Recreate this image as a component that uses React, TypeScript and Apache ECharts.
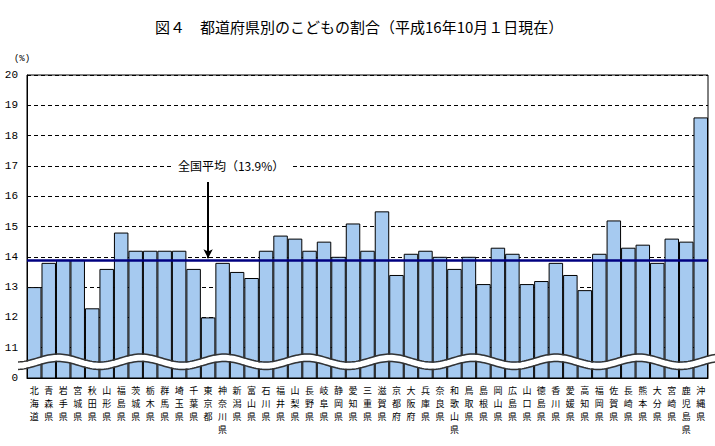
import React, { useEffect, useRef } from "react";
import * as echarts from "echarts";

const prefectures = [
  "北海道", "青森県", "岩手県", "宮城県", "秋田県", "山形県", "福島県", "茨城県", "栃木県", "群馬県",
  "埼玉県", "千葉県", "東京都", "神奈川県", "新潟県", "富山県", "石川県", "福井県", "山梨県", "長野県",
  "岐阜県", "静岡県", "愛知県", "三重県", "滋賀県", "京都府", "大阪府", "兵庫県", "奈良県", "和歌山県",
  "鳥取県", "島根県", "岡山県", "広島県", "山口県", "徳島県", "香川県", "愛媛県", "高知県", "福岡県",
  "佐賀県", "長崎県", "熊本県", "大分県", "宮崎県", "鹿児島県", "沖縄県",
];

const childShare = [
  13.0, 13.8, 13.9, 13.9, 12.3, 13.6, 14.8, 14.2, 14.2, 14.2,
  14.2, 13.6, 12.0, 13.8, 13.5, 13.3, 14.2, 14.7, 14.6, 14.2,
  14.5, 14.0, 15.1, 14.2, 15.5, 13.4, 14.1, 14.2, 14.0, 13.6,
  14.0, 13.1, 14.3, 14.1, 13.1, 13.2, 13.8, 13.4, 12.9, 14.1,
  15.2, 14.3, 14.4, 13.8, 14.6, 14.5, 18.6,
];

const nationalAverage = 13.9;
const yTicks = [10, 11, 12, 13, 14, 15, 16, 17, 18, 19, 20];
const yTickLabels = ["0", "11", "12", "13", "14", "15", "16", "17", "18", "19", "20"];

const title = "図４　都道府県別のこどもの割合（平成16年10月１日現在）";
const annotation = "全国平均（13.9%）";

function wavePoints(x0: number, x1: number, yc: number): number[][] {
  const pts: number[][] = [];
  for (let x = x0; x <= x1; x += 2) {
    pts.push([x, yc - 4 * Math.cos((2 * Math.PI * (x - 58)) / 83)]);
  }
  return pts;
}

export default function App() {
  const ref = useRef<HTMLDivElement>(null);
  useEffect(() => {
    document.body.style.margin = "0";
    const chart = echarts.init(ref.current!, null, { renderer: "svg" });
    const font = "'Noto Sans CJK JP', sans-serif";
    chart.setOption({
      animation: false,
      backgroundColor: "#fff",
      title: {
        text: title,
        left: 150,
        top: 14,
        textStyle: { fontFamily: font, fontSize: 15, fontWeight: "normal", color: "#000" },
      },
      grid: {
        left: 27,
        right: 7,
        top: 75,
        bottom: 68,
        show: true,
        borderColor: "#000",
        borderWidth: 1,
        backgroundColor: "transparent",
      },
      xAxis: {
        type: "category",
        data: prefectures,
        boundaryGap: true,
        axisLine: { lineStyle: { color: "#000", width: 1 } },
        axisTick: { show: false },
        axisLabel: {
          interval: 0,
          margin: 6,
          fontFamily: font,
          fontSize: 9,
          lineHeight: 13,
          color: "#000",
          verticalAlign: "top",
          formatter: (v: string) => v.split("").join("\n"),
        },
      },
      yAxis: {
        type: "value",
        min: 10,
        max: 20,
        interval: 1,
        name: "(%)",
        nameLocation: "end",
        nameGap: 12,
        nameTextStyle: { fontFamily: "'Liberation Mono', monospace", fontSize: 9, color: "#000", align: "center", padding: [0, 0, 0, -10] },
        axisLine: { show: true, lineStyle: { color: "#000", width: 1 } },
        axisTick: { show: false },
        axisLabel: {
          margin: 9,
          fontFamily: "'Liberation Mono', monospace",
          fontSize: 11,
          color: "#000",
          formatter: (v: number) => yTickLabels[yTicks.indexOf(v)] ?? String(v),
        },
        splitLine: { show: true, lineStyle: { color: "#000", type: [4, 3], width: 1 } },
      },
      series: [
        {
          type: "bar",
          data: childShare,
          barCategoryGap: "0%",
          itemStyle: { color: "#a6caf0", borderColor: "#000", borderWidth: 1 },
          markLine: {
            silent: true,
            symbol: ["none", "none"],
            label: { show: false },
            data: [
              { yAxis: nationalAverage, lineStyle: { color: "#000080", width: 2.5, type: "solid" } },
              [
                { coord: [prefectures[12], 16.47], symbol: "none", lineStyle: { color: "#000", width: 2, type: "solid" } },
                { coord: [prefectures[12], 13.95], symbol: "arrow", symbolSize: [7, 9] },
              ],
            ],
            z: 5,
          },
        },
      ],
    });
    const p = chart.convertToPixel({ gridIndex: 0 }, [12, 17]) as number[];
    const yc = 358;
    chart.setOption({
      graphic: [
        {
          type: "text",
          x: p[0] + 23,
          y: p[1],
          z: 10,
          style: {
            text: annotation,
            fontFamily: font,
            fontSize: 12,
            fill: "#000",
            align: "center",
            verticalAlign: "middle",
            backgroundColor: "#fff",
            padding: [1, 6],
          },
        },
        {
          type: "polyline",
          z: 20,
          shape: { points: wavePoints(18, 716, yc + 3.75) },
          style: { stroke: "#fff", lineWidth: 6, fill: null },
        },
        {
          type: "polyline",
          z: 21,
          shape: { points: wavePoints(18, 716, yc) },
          style: { stroke: "#333", lineWidth: 1.5, fill: null },
        },
        {
          type: "polyline",
          z: 21,
          shape: { points: wavePoints(18, 716, yc + 7.5) },
          style: { stroke: "#333", lineWidth: 1.5, fill: null },
        },
      ],
    });
    return () => chart.dispose();
  }, []);
  return <div ref={ref} style={{ width: 715, height: 446 }} />;
}
